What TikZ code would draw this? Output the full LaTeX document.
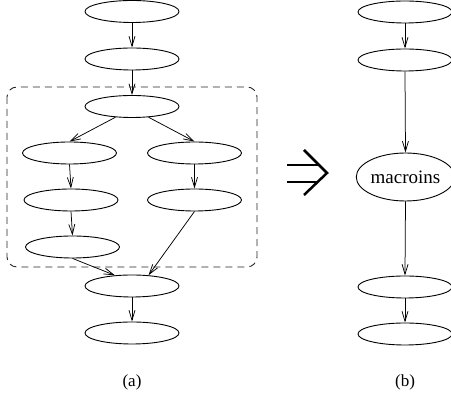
\documentclass[tikz,border=0pt]{standalone}
\usepackage{fontspec}
\setmainfont{Liberation Serif}
\usetikzlibrary{shapes.geometric,arrows.meta}
\begin{document}
\begin{tikzpicture}[x=1pt,y=-1pt,
  nd/.style={draw,ellipse,line width=0.9pt,minimum width=94pt,minimum height=22pt,inner sep=0pt},
  arr/.style={line width=0.75pt,-{Straight Barb[length=10pt,width=6pt,line width=0.75pt]}},
  lbl/.style={font=\fontsize{17}{20}\selectfont}]
\useasboundingbox (0,0) rectangle (451,395);
% left (a)
\node[nd] (n1) at (132,11.5) {};
\node[nd] (n2) at (132,59) {};
\node[nd] (n3) at (132,106.5) {};
\node[nd] (l1) at (69.5,153) {};
\node[nd] (r1) at (194.5,153) {};
\node[nd] (l2) at (71,200) {};
\node[nd] (r2) at (194.5,200) {};
\node[nd] (l3) at (72.5,247) {};
\node[nd] (m) at (132,286) {};
\node[nd] (e) at (132,333) {};
\node[lbl] (la) at (132,382) {(a)};
\draw[line width=0.9pt,dash pattern=on 7pt off 5pt,rounded corners=10pt,black!85] (7,87) rectangle (257,267);
\draw[arr] (n1.south) -- (n2.north);
\draw[arr] (n2.south) -- (n3.north);
\draw[arr] (n3.213) -- (l1.north);
\draw[arr] (n3.-33) -- (r1.north);
\draw[arr] (l1.south) -- (l2.north);
\draw[arr] (r1.south) -- (r2.north);
\draw[arr] (l2.south) -- (l3.north);
\draw[arr] (l3.south) -- (m.148);
\draw[arr] (r2.south) -- (m.33);
\draw[arr] (m.south) -- (e.north);
% arrow symbol
\draw[line width=2.5pt] (287,165) -- (319.5,165) (287,182) -- (318,182);
\draw[line width=2.5pt,line join=miter] (304,150) -- (327,173) -- (304,195);
% right (b)
\node[nd] (R1) at (405,12) {};
\node[nd] (R2) at (405,60) {};
\node[nd,minimum width=91pt,minimum height=48pt,font=\fontsize{19}{22}\selectfont] (mac) at (405.5,177) {macroins};
\node[nd] (R4) at (405,287) {};
\node[nd] (R5) at (405,334) {};
\node[lbl] (lb) at (405,382) {(b)};
\draw[arr] (R1.south) -- (R2.north);
\draw[arr] (R2.south) -- (mac.north);
\draw[arr] (mac.south) -- (R4.north);
\draw[arr] (R4.south) -- (R5.north);
\end{tikzpicture}
\end{document}
